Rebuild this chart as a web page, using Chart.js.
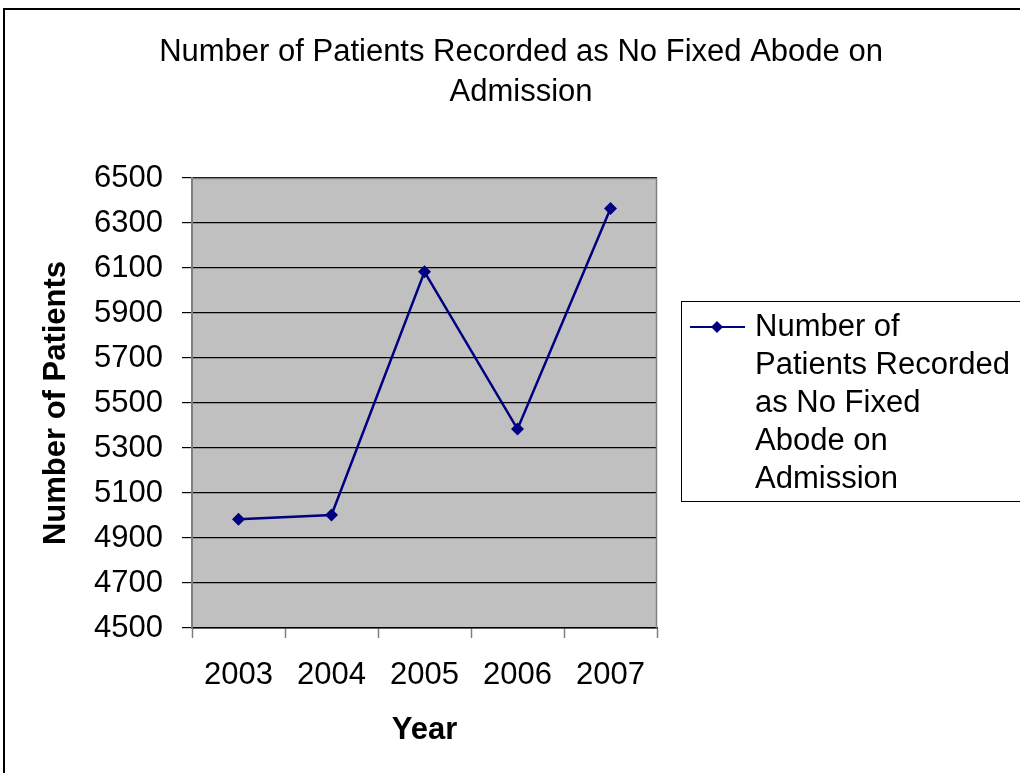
<!DOCTYPE html>
<html>
<head>
<meta charset="utf-8">
<script src="https://cdn.jsdelivr.net/npm/chart.js@4.4.1/dist/chart.umd.min.js"></script>
<style>
  body { margin: 0; background: #fff; overflow: hidden; }
  #wrap { position: relative; width: 1020px; height: 773px; overflow: hidden; }
  #frame { position: absolute; left: 3px; top: 8px; width: 1100px; height: 900px; border: 2px solid #000; }
  #grafico { position: absolute; left: 0; top: 0; }
</style>
</head>
<body>
<div id="wrap">
  <div id="frame"></div>
  <canvas id="grafico" width="1020" height="773"></canvas>
</div>
<script>
const anos = ['2003', '2004', '2005', '2006', '2007'];
const pacientes = [4983, 5002, 6083, 5384, 6364];
const tituloLinhas = ['Number of Patients Recorded as No Fixed Abode on', 'Admission'];
const legendaLinhas = ['Number of', 'Patients Recorded', 'as No Fixed', 'Abode on', 'Admission'];

const FONTE = '"Liberation Sans", Arial, sans-serif';
const AZUL = '#000080';

// fundo cinza da area do grafico + borda
const fundoPlot = {
    id: 'fundoPlot',
    beforeDraw(chart) {
        const { ctx, chartArea: a } = chart;
        ctx.save();
        ctx.fillStyle = '#C0C0C0';
        ctx.fillRect(a.left, a.top, a.right - a.left, a.bottom - a.top);
        ctx.restore();
    },
    afterDatasetsDraw(chart) {
        const { ctx, chartArea: a } = chart;
        ctx.save();
        ctx.strokeStyle = '#808080';
        ctx.lineWidth = 1.5;
        ctx.beginPath();
        ctx.moveTo(a.left, a.top + 0.5);
        ctx.lineTo(a.right - 0.5, a.top + 0.5);
        ctx.lineTo(a.right - 0.5, a.bottom);
        ctx.stroke();
        ctx.restore();
    }
};

// titulo centrado na pagina toda (nao so na area do grafico)
const tituloTopo = {
    id: 'tituloTopo',
    afterDraw(chart) {
        const ctx = chart.ctx;
        ctx.save();
        ctx.fillStyle = '#000';
        ctx.font = '31px ' + FONTE;
        ctx.textAlign = 'center';
        ctx.textBaseline = 'middle';
        tituloLinhas.forEach((t, i) => ctx.fillText(t, 521, 52 + i * 40));
        ctx.restore();
    }
};

// legenda em varias linhas, a direita
const legendaLado = {
    id: 'legendaLado',
    afterDraw(chart) {
        const ctx = chart.ctx;
        const x0 = 681, y0 = 301, alt = 200;
        ctx.save();
        ctx.strokeStyle = '#000';
        ctx.lineWidth = 1;
        ctx.strokeRect(x0 + 0.5, y0 + 0.5, 400, alt);

        const yL = 327;
        ctx.strokeStyle = AZUL;
        ctx.lineWidth = 2;
        ctx.beginPath();
        ctx.moveTo(690, yL);
        ctx.lineTo(745, yL);
        ctx.stroke();
        ctx.fillStyle = AZUL;
        ctx.beginPath();
        ctx.moveTo(717, yL - 6);
        ctx.lineTo(723, yL);
        ctx.lineTo(717, yL + 6);
        ctx.lineTo(711, yL);
        ctx.closePath();
        ctx.fill();

        ctx.fillStyle = '#000';
        ctx.font = '31px ' + FONTE;
        ctx.textBaseline = 'middle';
        ctx.textAlign = 'left';
        legendaLinhas.forEach((t, i) => ctx.fillText(t, 755, yL + i * 38));
        ctx.restore();
    }
};

const ctx = document.getElementById('grafico').getContext('2d');
const grafico = new Chart(ctx, {
    type: 'line',
    data: {
        labels: anos,
        datasets: [{
            label: legendaLinhas.join(' '),
            data: pacientes,
            borderColor: AZUL,
            backgroundColor: AZUL,
            borderWidth: 2.5,
            pointStyle: 'rectRot',
            pointRadius: 6.5,
            pointBorderWidth: 0,
            fill: false,
            tension: 0
        }]
    },
    options: {
        responsive: false,
        animation: false,
        devicePixelRatio: 1,
        layout: { padding: { left: 0, top: 178, right: 363, bottom: 0 } },
        plugins: {
            legend: { display: false },
            tooltip: { enabled: false },
            title: { display: false }
        },
        scales: {
            x: {
                type: 'category',
                offset: true,
                afterFit: s => { s.height = 145; },
                grid: {
                    offset: true,
                    drawOnChartArea: false,
                    drawTicks: true,
                    tickLength: 10,
                    tickColor: '#808080',
                    tickWidth: 1.5
                },
                border: { display: true, color: '#000', width: 1.5 },
                ticks: {
                    color: '#000',
                    padding: 19,
                    font: { family: FONTE, size: 31 }
                },
                title: {
                    display: true,
                    text: 'Year',
                    color: '#000',
                    font: { family: FONTE, size: 31, weight: 'bold' },
                    padding: { top: 0, bottom: 24 }
                }
            },
            y: {
                min: 4500,
                max: 6500,
                afterFit: s => { s.width = 192; },
                grid: {
                    color: '#000',
                    lineWidth: 1.2,
                    drawTicks: true,
                    tickLength: 10,
                    tickColor: '#000'
                },
                border: { display: true, color: '#808080', width: 2 },
                ticks: {
                    stepSize: 200,
                    color: '#000',
                    padding: 19,
                    font: { family: FONTE, size: 31 },
                    callback: v => String(v)
                },
                title: {
                    display: true,
                    text: 'Number of Patients',
                    color: '#000',
                    font: { family: FONTE, size: 31, weight: 'bold' },
                    padding: { top: 38, bottom: 0 }
                }
            }
        }
    },
    plugins: [fundoPlot, tituloTopo, legendaLado]
});
</script>
</body>
</html>
